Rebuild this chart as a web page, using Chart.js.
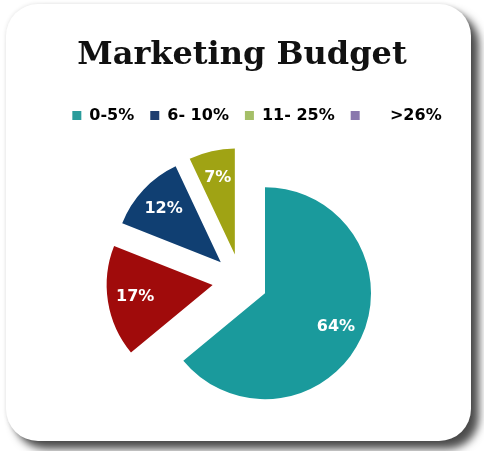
<!DOCTYPE html>
<html>
<head>
<meta charset="utf-8">
<script src="https://cdn.jsdelivr.net/npm/chart.js@4"></script>
<style>
  html, body { margin: 0; padding: 0; background: #fff; }
  #wrap { position: relative; width: 484px; height: 451px; overflow: hidden; }
  #card {
    position: absolute; left: 6px; top: 4px; width: 465px; height: 437px;
    background: #fff; border-radius: 32px;
    box-shadow: 8px 8px 9px rgba(0,0,0,0.7), 0 0 4px rgba(0,0,0,0.12);
  }
  #budget { position: absolute; left: 0; top: 0; }
</style>
</head>
<body>
<div id="wrap">
  <div id="card"></div>
  <canvas id="budget" width="484" height="451"></canvas>
</div>
<script>
// budget share per spend band (percent)
const bands = ['0-5%', '>26%', '6- 10%', '11- 25%'];
const shares = [64, 17, 12, 7];
const sliceColors = ['#1a9a9c', '#a00b0b', '#103f72', '#a0a314'];

// legend reads in its own order with its own swatches
const legendBands = ['0-5%', '6- 10%', '11- 25%', '    >26%'];
const legendColors = ['#2a9c9b', '#1f3f70', '#a5bf68', '#8a78ad'];

// whole pie sits right of the title's centre line, legend too
const pieShiftX = 23;
const pieShiftY = 1;
const legendShiftX = 15;
// pulled-out slices: distance in px and direction in degrees (clockwise from top)
const explodeDist = [0, 53, 54, 49];
const explodeDir = [0, 279, 305, 322];

function explodeVec(i) {
    const a = (explodeDir[i] - 90) * Math.PI / 180;
    return {
        dx: pieShiftX + Math.cos(a) * explodeDist[i],
        dy: pieShiftY + Math.sin(a) * explodeDist[i]
    };
}

const explodedPie = {
    id: 'explodedPie',
    afterLayout(chart) {
        chart.legend.left += legendShiftX;
        chart.legend.right += legendShiftX;
    },
    beforeDatasetDraw(chart, args) {
        const ctx = chart.ctx;
        args.meta.data.forEach((arc, i) => {
            const v = explodeVec(i);
            ctx.save();
            ctx.translate(v.dx, v.dy);
            arc.draw(ctx);
            ctx.restore();
        });
        return false;
    },
    afterDatasetsDraw(chart) {
        const ctx = chart.ctx;
        const arcs = chart.getDatasetMeta(0).data;
        ctx.save();
        ctx.fillStyle = '#fff';
        ctx.font = 'bold 16px "DejaVu Sans"';
        ctx.textAlign = 'center';
        ctx.textBaseline = 'middle';
        arcs.forEach((arc, i) => {
            const v = explodeVec(i);
            const mid = (arc.startAngle + arc.endAngle) / 2;
            const r = arc.outerRadius * 0.74;
            ctx.fillText(shares[i] + '%', arc.x + v.dx + Math.cos(mid) * r, arc.y + v.dy + Math.sin(mid) * r);
        });
        ctx.restore();
    }
};

const budget = new Chart(document.getElementById('budget').getContext('2d'), {
    type: 'pie',
    data: {
        labels: bands,
        datasets: [{
            data: shares,
            backgroundColor: sliceColors,
            borderWidth: 0
        }]
    },
    options: {
        responsive: false,
        animation: false,
        radius: 106,
        layout: { padding: { top: 36, left: 0, right: 0, bottom: 0 } },
        plugins: {
            title: {
                display: true,
                text: 'Marketing Budget',
                color: '#111',
                font: { family: '"DejaVu Serif"', size: 32, weight: 'bold' },
                padding: { top: 0, bottom: 17 }
            },
            legend: {
                position: 'top',
                labels: {
                    color: '#222',
                    font: { family: '"DejaVu Sans"', size: 16, weight: 'bold' },
                    boxWidth: 9,
                    boxHeight: 9,
                    padding: 16,
                    generateLabels: () => legendBands.map((t, i) => ({
                        text: t,
                        fillStyle: legendColors[i],
                        strokeStyle: legendColors[i],
                        lineWidth: 0,
                        index: i
                    }))
                }
            },
            tooltip: { enabled: false }
        }
    },
    plugins: [explodedPie]
});
</script>
</body>
</html>
